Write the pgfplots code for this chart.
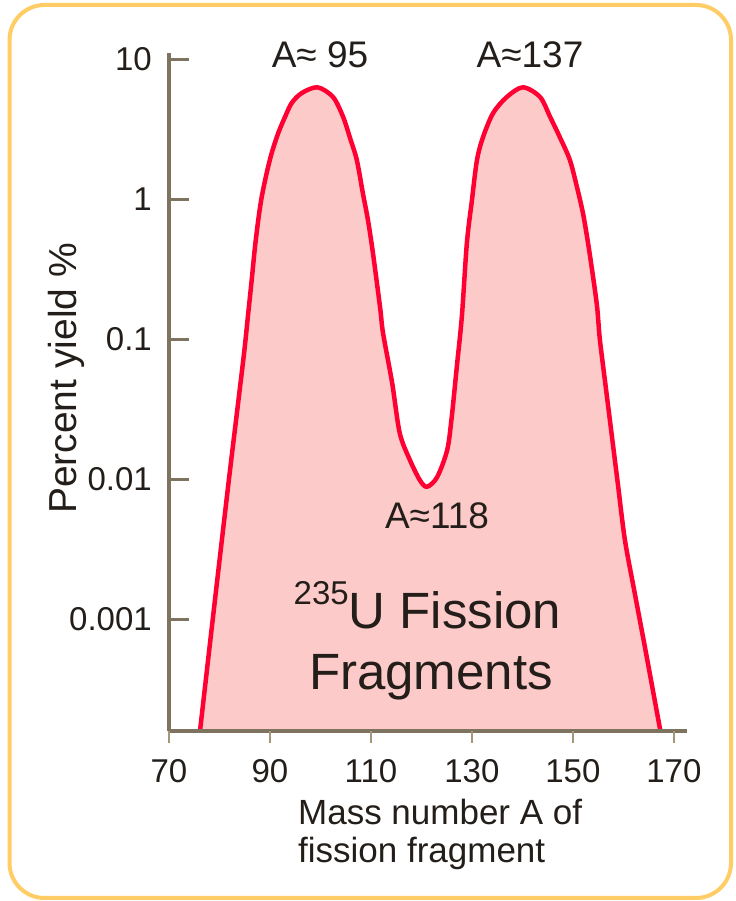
\documentclass[border=0pt]{standalone}
\usepackage{pgfplots}
\pgfplotsset{compat=1.18}
\usepackage{pgfplotstable}
\usepackage{fontspec}
\setmainfont{Liberation Sans}
\definecolor{axbrown}{RGB}{125,115,95}
\definecolor{tickbrown}{RGB}{165,150,120}
\definecolor{fillpink}{RGB}{253,202,202}
\definecolor{curvered}{RGB}{255,0,51}
\definecolor{frameorange}{RGB}{255,204,102}
\definecolor{txt}{RGB}{35,30,25}
\newcommand\fs[2]{\fontsize{#1bp}{#2bp}\selectfont}

\pgfplotstableread{
A y
76.14 0.0001585
78.67 0.001
81.88 0.01
84.71 0.0708
85.70 0.1535
86.38 0.264
87.03 0.454
87.68 0.708
88.36 1.033
89.35 1.534
90.34 2.13
91.64 2.96
92.97 3.85
94.30 4.85
96.28 5.71
99.4 6.28
102.5 5.35
104.5 3.85
105.8 2.77
107.2 1.90
108.4 1.10
109.4 0.71
110.4 0.41
111.8 0.169
112.4 0.110
114.2 0.0485
115.7 0.0213
117.7 0.0137
119.7 0.0098
121.1 0.0088
123.1 0.0103
125.1 0.0161
126.0 0.0277
127.0 0.063
128.0 0.144
129.0 0.485
130.0 0.98
131.0 1.90
132.2 2.77
134.2 4.11
136.9 5.35
140.1 6.28
143.5 5.35
145.5 3.85
147.4 2.77
149.4 1.90
150.8 1.22
152.0 0.79
153.0 0.485
154.0 0.277
154.8 0.169
155.35 0.0985
156.53 0.0447
157.72 0.0203
158.91 0.0092
160.3 0.00367
162.28 0.00151
164.26 0.000631
166.24 0.000259
167.33 0.0001585
}\yielddata

\begin{document}
\begin{tikzpicture}
\useasboundingbox (0,0) rectangle (736bp,901bp);
\draw[frameorange, line width=4bp, rounded corners=35bp] (9.5bp,3bp) rectangle (731bp,896bp);
\begin{axis}[
  at={(169bp,170bp)}, anchor=south west,
  scale only axis, width=518bp, height=678bp,
  ymode=log, xmin=70, xmax=172.6, ymin=1.585e-4, ymax=11.04,
  axis x line*=bottom, axis y line*=left,
  axis line style={axbrown, line width=4.5bp},
  axis on top,
  /pgf/number format/assume math mode=true,
  xtick={70,90,110,130,150,170},
  xtick style={draw=none},
  ytick={0.001,0.01,0.1,1,10},
  yticklabels={0.001,0.01,0.1,1,10},
  yminorticks=false,
  tick align=inside, major tick length=20bp,
  ytick style={axbrown, line width=3bp},
  yticklabel style={font=\fs{33}{33}, text=txt, anchor=east, inner sep=0pt, xshift=-17bp},
  xticklabel style={font=\fs{33}{33}, text=txt, anchor=north, inner sep=0pt, yshift=-28bp},
  ylabel={Percent yield \%},
  ylabel style={font=\fs{39}{39}, text=txt, at={(axis description cs:-0.1795,0.52)}, anchor=base, inner sep=0pt},
  xlabel={Mass number A of\\fission fragment},
  xlabel style={font=\fs{35}{38}, text=txt, align=left, at={(axis description cs:0.249,-0.1003)}, anchor=north west, inner sep=0pt},
]
\addplot[draw=none, fill=fillpink, smooth, tension=0.5] table[x=A,y=y]{\yielddata};
\addplot[curvered, line width=4.5bp, smooth, tension=0.5, line join=round] table[x=A,y=y]{\yielddata};
\end{axis}
\begin{axis}[
  at={(169bp,170bp)}, anchor=south west,
  scale only axis, width=518bp, height=678bp,
  xmin=70, xmax=172.6, ymin=0, ymax=1,
  axis x line*=bottom, axis y line=none,
  x axis line style={draw=none},
  xtick={70,90,110,130,150,170}, xticklabels={},
  ytick=\empty,
  tick align=outside, major tick length=12bp,
  xtick style={tickbrown, line width=1.5bp},
]
\end{axis}
\node[anchor=base, text=txt, font=\fs{37}{37}] at (320bp,833bp) {A≈ 95};
\node[anchor=base, text=txt, font=\fs{37}{37}] at (530bp,833bp) {A≈137};
\node[anchor=base, text=txt, font=\fs{37}{37}] at (437bp,372bp) {A≈118};
\node[anchor=base, text=txt, font=\fs{51}{51}] at (427.5bp,272bp) {\raisebox{24bp}{\fs{33}{33}235}U Fission};
\node[anchor=base, text=txt, font=\fs{51}{51}] at (431bp,211bp) {Fragments};
\end{tikzpicture}
\end{document}
